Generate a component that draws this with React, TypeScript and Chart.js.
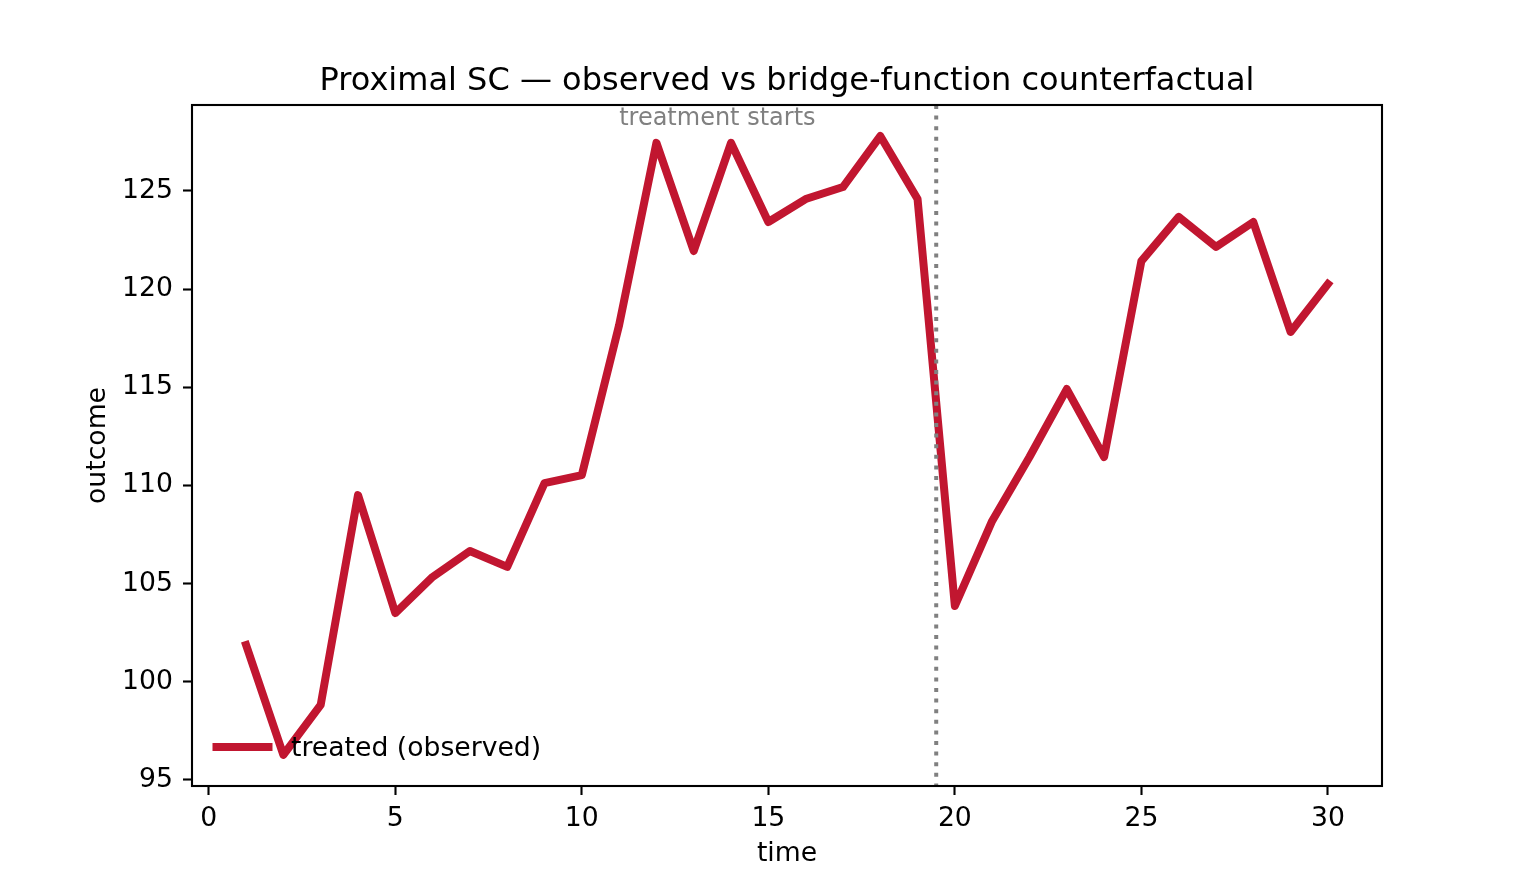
import { Chart, registerables } from 'chart.js';
import { useRef, useEffect } from 'react';
Chart.register(...registerables);

const time = [1, 2, 3, 4, 5, 6, 7, 8, 9, 10, 11, 12, 13, 14, 15, 16, 17, 18, 19, 20, 21, 22, 23, 24, 25, 26, 27, 28, 29, 30];
const treated = [101.87, 96.27, 98.82, 109.51, 103.5, 105.34, 106.66, 105.85, 110.12, 110.53, 118.17, 127.45, 121.94, 127.45, 123.42, 124.59, 125.2, 127.8, 124.59, 103.86, 108.19, 111.45, 114.91, 111.45, 121.43, 123.68, 122.15, 123.42, 117.82, 120.26];
const xTicks = [0, 5, 10, 15, 20, 25, 30];
const yTicks = [95, 100, 105, 110, 115, 120, 125];
const treatmentStart = 19.5;

const FONT = "'DejaVu Sans', sans-serif";
const RED = 'rgb(193, 22, 48)';

// matplotlib-style decorations: frame, axvline, text annotation, legend
const decorPlugin = {
    id: 'decor',
    afterDatasetsDraw(chart: any) {
        const { ctx, chartArea, scales } = chart;
        const { left, right, top, bottom } = chartArea;

        // vertical dotted line
        const vx = scales.x.getPixelForValue(treatmentStart);
        ctx.save();
        ctx.strokeStyle = 'gray';
        ctx.lineWidth = 4;
        ctx.setLineDash([4, 6.6]);
        ctx.beginPath();
        ctx.moveTo(vx, top);
        ctx.lineTo(vx, bottom);
        ctx.stroke();
        ctx.restore();

        // frame
        ctx.save();
        ctx.strokeStyle = '#000';
        ctx.lineWidth = 2.1;
        ctx.strokeRect(left, top, right - left, bottom - top);
        ctx.restore();

        // annotation
        ctx.save();
        ctx.fillStyle = 'gray';
        ctx.font = `24px ${FONT}`;
        ctx.textAlign = 'left';
        ctx.textBaseline = 'alphabetic';
        ctx.fillText('treatment starts', scales.x.getPixelForValue(11), scales.y.getPixelForValue(128.36));
        ctx.restore();

        // legend (lower left, no frame)
        const ds = chart.data.datasets[0];
        const ly = bottom - 39;
        ctx.save();
        ctx.strokeStyle = ds.borderColor;
        ctx.lineWidth = ds.borderWidth;
        ctx.lineCap = 'square';
        ctx.beginPath();
        ctx.moveTo(left + 24.5, ly);
        ctx.lineTo(left + 76.5, ly);
        ctx.stroke();
        ctx.fillStyle = '#000';
        ctx.font = `26.67px ${FONT}`;
        ctx.textAlign = 'left';
        ctx.textBaseline = 'middle';
        ctx.fillText(ds.label, left + 99, ly + 2);
        ctx.restore();
    }
};

const App = () => {
    const chartRef = useRef<HTMLCanvasElement>(null);

    useEffect(() => {
        let myChart: any = null;
        if (chartRef.current) {
            myChart = new Chart(chartRef.current, {
                type: 'line',
                data: {
                    datasets: [{
                        label: 'treated (observed)',
                        data: time.map((t, i) => ({ x: t, y: treated[i] })),
                        borderColor: RED,
                        backgroundColor: RED,
                        borderWidth: 8,
                        borderJoinStyle: 'round',
                        borderCapStyle: 'square',
                        pointRadius: 0,
                        tension: 0,
                        fill: false
                    }]
                },
                options: {
                    animation: false,
                    responsive: true,
                    maintainAspectRatio: false,
                    devicePixelRatio: 1,
                    font: { family: FONT },
                    layout: { padding: { left: 0, right: 154, top: 0, bottom: 0 } },
                    plugins: {
                        legend: { display: false },
                        tooltip: { enabled: false },
                        title: {
                            display: true,
                            fullSize: false,
                            text: 'Proximal SC \u2014 observed vs bridge-function counterfactual',
                            color: '#000',
                            font: { family: FONT, size: 32, weight: 'normal' },
                            padding: { top: 62.8, bottom: 3.8 }
                        }
                    },
                    scales: {
                        x: {
                            type: 'linear',
                            min: -0.45,
                            max: 31.45,
                            afterBuildTicks: (scale: any) => { scale.ticks = xTicks.map(v => ({ value: v })); },
                            afterFit: (scale: any) => { scale.height = 97; },
                            border: { display: false },
                            grid: { drawOnChartArea: false, drawTicks: true, tickLength: 9, tickColor: '#000', tickWidth: 2.1 },
                            ticks: { color: '#000', font: { family: FONT, size: 26.67 }, padding: 8, maxRotation: 0, autoSkip: false },
                            title: { display: true, text: 'time', color: '#000', font: { family: FONT, size: 26.67 }, padding: { top: 0, bottom: 13 } }
                        },
                        y: {
                            type: 'linear',
                            min: 94.69,
                            max: 129.38,
                            afterBuildTicks: (scale: any) => { scale.ticks = yTicks.map(v => ({ value: v })); },
                            afterFit: (scale: any) => { scale.width = 192; },
                            border: { display: false },
                            grid: { drawOnChartArea: false, drawTicks: true, tickLength: 9, tickColor: '#000', tickWidth: 2.1 },
                            ticks: { color: '#000', font: { family: FONT, size: 26.67 }, padding: 10, autoSkip: false },
                            title: { display: true, text: 'outcome', color: '#000', font: { family: FONT, size: 26.67 }, padding: { top: 82, bottom: 0 } }
                        }
                    }
                },
                plugins: [decorPlugin]
            });
        }
        return () => {
            if (myChart) {
                myChart.destroy();
            }
        };
    }, []);

    return (
        <div style={{ position: 'absolute', left: 0, top: 0, width: 1536, height: 883, background: '#fff' }}>
            <canvas ref={chartRef} style={{ width: '100%', height: '100%' }}></canvas>
        </div>
    );
};

export default App;
